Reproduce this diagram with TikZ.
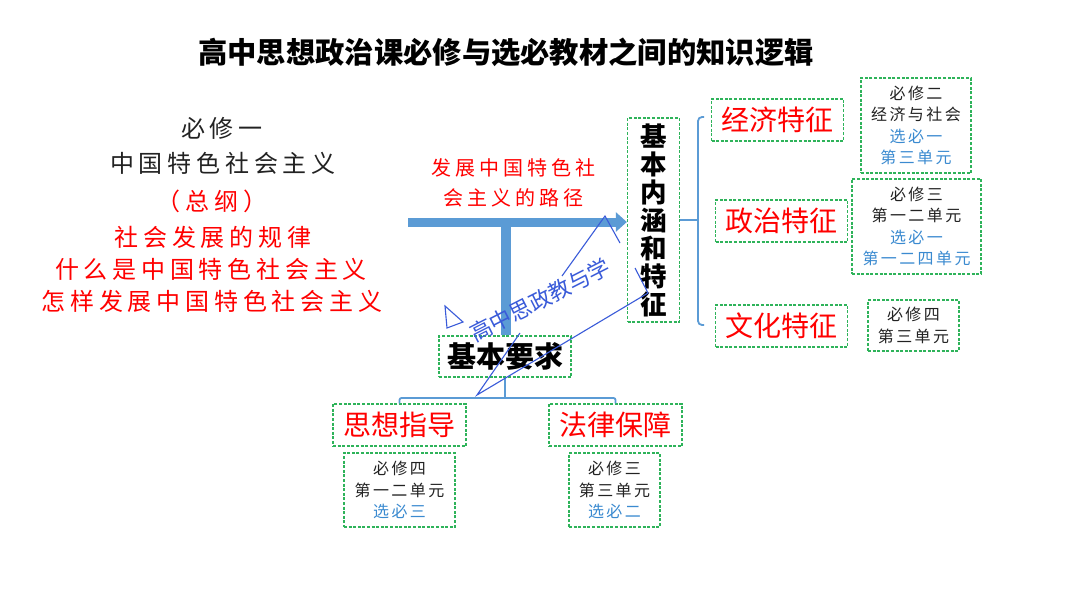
\documentclass[tikz,border=0pt]{standalone}
\usepackage{fontspec}
\setmainfont{Noto Sans CJK SC}
\newfontfamily\cjk{Noto Sans CJK SC}
\newfontfamily\cjkls[LetterSpace=20]{Noto Sans CJK SC}
\newfontfamily\cjkss[LetterSpace=15]{Noto Sans CJK SC}
\usetikzlibrary{arrows.meta}
\definecolor{myblue}{HTML}{5B9BD5}
\definecolor{mygreen}{HTML}{2EB35A}
\definecolor{txtblue}{HTML}{3A8AD0}
\definecolor{wmblue}{HTML}{3A5BD9}
\definecolor{txtblack}{HTML}{222222}
\definecolor{txtred}{HTML}{FF0000}
\begin{document}
\begin{tikzpicture}[x=1pt,y=-1pt,
  gbox/.style={draw=mygreen, dash pattern=on 3pt off 1.6pt, line width=1.3pt, inner sep=0pt},
  lefttxt/.style={font=\cjkls\fontsize{24}{24}\selectfont, text=txtblack, inner sep=0pt},
  feat/.style={gbox, minimum width=132pt, minimum height=42pt, text=txtred, font=\cjk\fontsize{28}{28}\selectfont},
  smallbox/.style={gbox, align=center, text=txtblack, font=\cjkss\fontsize{16}{21.3}\selectfont},
  treeline/.style={myblue, line width=1.8pt, rounded corners=2pt},
  wm/.style={wmblue, line width=1.1pt}
  ]
\fill[white] (0,0) rectangle (1080,608);
\useasboundingbox (0,0) rectangle (1080,608);

% title
\node[font=\bfseries\fontsize{29.3}{30}\selectfont, inner sep=0pt] (title) at (506,52) {高中思想政治课必修与选必教材之间的知识逻辑};

% left texts
\node[lefttxt] (b1) at (222,128) {必修一};
\node[lefttxt] (b2) at (223,163) {中国特色社会主义};
\node[lefttxt, text=txtred] (r1) at (212,201) {（总纲）};
\node[lefttxt, text=txtred] (r2) at (213,237) {社会发展的规律};
\node[lefttxt, text=txtred] (r3) at (211,269) {什么是中国特色社会主义};
\node[lefttxt, text=txtred] (r4) at (212,301) {怎样发展中国特色社会主义};

% path label
\node[font=\cjkls\fontsize{20}{30}\selectfont, text=txtred, align=center, inner sep=0pt] (path) at (513,183) {发展中国特色社\\会主义的路径};

% central vertical box
\node[gbox, minimum width=52pt, minimum height=204pt, align=center,
      font=\bfseries\fontsize{26.5}{28}\selectfont] (inner) at (653.5,220) {基\\本\\内\\涵\\和\\特\\征};

% feature boxes
\node[feat] (econ) at (777.5,120) {经济特征};
\node[feat] (poli) at (781.5,221) {政治特征};
\node[feat] (cult) at (781.5,326) {文化特征};

% right small boxes
\node[smallbox, minimum width=110pt, minimum height=95pt] (bx2) at (916,125.5)
  {必修二\\经济与社会\\\textcolor{txtblue}{选必一}\\\textcolor{txtblue}{第三单元}};
\node[smallbox, minimum width=129pt, minimum height=95pt] (bx3) at (916.5,226.5)
  {必修三\\第一二单元\\\textcolor{txtblue}{选必一}\\\textcolor{txtblue}{第一二四单元}};
\node[smallbox, minimum width=91pt, minimum height=51pt] (bx4) at (913.5,325.5)
  {必修四\\第三单元};

% basic requirement
\node[gbox, minimum width=132pt, minimum height=41pt, font=\bfseries\fontsize{29}{29}\selectfont] (req) at (505,356.5) {基本要求};
\node[feat, minimum width=133pt] (thought) at (399.5,425) {思想指导};
\node[feat, minimum width=133pt] (law) at (615.5,425) {法律保障};
\node[smallbox, minimum width=111pt, minimum height=74pt] (bl1) at (399.5,490)
  {必修四\\第一二单元\\\textcolor{txtblue}{选必三}};
\node[smallbox, minimum width=91pt, minimum height=74pt] (bl2) at (614.5,490)
  {必修三\\第三单元\\\textcolor{txtblue}{选必二}};

% thick blue arrow and T bar
\coordinate (as) at (408,222);
\coordinate (tj) at (506,218);
\draw[myblue, line width=10pt] (tj) -- (tj |- req.north);
\draw[myblue, line width=9pt, -{Triangle[length=11pt,width=19pt]}] (as) -- (as -| inner.west);

% bracket
\coordinate (bt) at (698,117);
\coordinate (bb) at (698,325);
\draw[treeline] (inner.east) -- (inner.east -| bt);
\draw[treeline, rounded corners=4pt] ([xshift=6pt]bt) -- (bt) -- (bb) -- ([xshift=6pt]bb);

% tree below
\coordinate (tm) at (505,398);
\draw[treeline] (req.south) -- (tm);
\draw[treeline] (thought.north) |- (tm) -| (law.north);

% watermark
\draw[wm] (562,276) -- (605,216) -- (620,243);
\draw[wm] (635,268) -- (648,293) -- (477,395) -- (520,333);
\draw[wm] (445,306) -- (463,322) -- (447,328) -- cycle;
\node[text=wmblue, rotate=27, font=\cjk\fontsize{22}{22}\selectfont, inner sep=0pt] (wmtext) at (540,300) {高中思政教与学};
\end{tikzpicture}
\end{document}
